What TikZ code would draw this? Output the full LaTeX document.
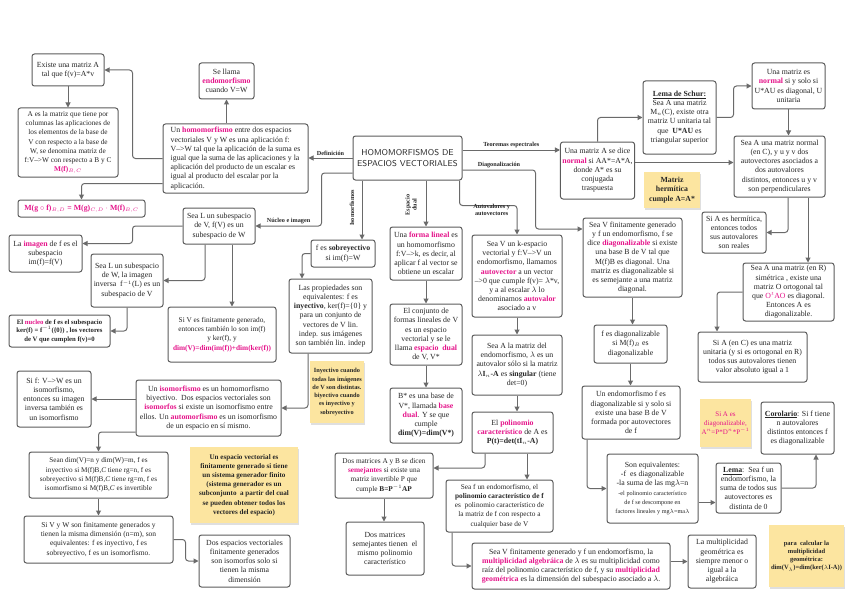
\documentclass[tikz,border=0pt]{standalone}
\usepackage{fontspec}
\setmainfont{Liberation Serif}
\usetikzlibrary{arrows.meta,shadows,calc}
\definecolor{mag}{HTML}{E5138A}
\definecolor{bord}{HTML}{5B5B5B}
\definecolor{arrc}{HTML}{6A6A6A}
\definecolor{sticky}{HTML}{FCE5A0}
\newcommand\mg[1]{\textcolor{mag}{\textbf{#1}}}
\newcommand\fs[2]{\fontsize{#1}{#2}\selectfont}
\newcommand\sm[1]{{\fs{6.2}{7.8}#1}}
\newcommand\mybox[7][]{%
 \pgfmathsetmacro\bxw{#5-#3}\pgfmathsetmacro\bxh{#6-#4}%
 \pgfmathsetmacro\bxcx{(#3+#5)/2}\pgfmathsetmacro\bxcy{(#4+#6)/2}%
 \node[bx,#1,minimum width=\bxw pt,minimum height=\bxh pt] (#2) at (\bxcx,\bxcy) {#7};}
\tikzset{
 bx/.style={draw=bord, line width=1pt, rounded corners=2.5pt, fill=white, align=center, inner sep=2pt, font=\fs{7.8}{9.2}, text=black!85},
 mid/.style={font=\fs{7.3}{9.2}},
 note/.style={fill=sticky, draw=none, sharp corners, drop shadow={shadow xshift=1pt, shadow yshift=-2pt, opacity=0.25}},
 arr/.style={draw=arrc, line width=1pt, rounded corners=3pt, -{Triangle[length=5pt,width=5pt]}},
 lbl/.style={font=\bfseries\fs{6.2}{7.2}, text=black!85, inner sep=1pt}
}
\begin{document}
\begin{tikzpicture}[x=1pt,y=-1pt]
\fill[white] (0,0) rectangle (848,599);
\useasboundingbox (0,0) rectangle (848,599);

% left column
\mybox{exist}{32}{54}{104}{86}{Existe una matriz A\\tal que f(v)=A*v}
\mybox[mid]{amat}{18}{108}{118}{177}{A es la matriz que tiene por\\columnas las aplicaciones de\\los elementos de la base de\\V con respecto a la base de\\W, se denomina matriz de\\f:V-->W con respecto a B y C\\\mg{M(f)$_{B,C}$}}
\mybox{mgf}{18}{200}{145}{217}{\mg{M(g $\circ$ f)$_{B,D}$ = M(g)$_{C,D}$ $\cdot$ M(f)$_{B,C}$}}
\mybox{endo}{199}{63}{254}{99}{Se llama\\\mg{endomorfismo}\\cuando V=W}
\mybox[align=left]{homo}{163}{124}{308}{193}{Un \mg{homomorfismo} entre dos espacios\\vectoriales V y W es una aplicación f:\\V-->W tal que la aplicación de la suma es\\igual que la suma de las aplicaciones y la\\aplicación del producto de un escalar es\\igual al producto del escalar por la\\aplicación.}
\mybox[font=\sffamily\fs{8.5}{11}]{title}{353}{136}{462}{180}{HOMOMORFISMOS DE\\ESPACIOS VECTORIALES}

\mybox{subV}{183}{208}{255}{244}{Sea L un subespacio\\de V, f(V) es un\\subespacio de W}
\mybox{imagen}{9}{235}{82}{272}{La \mg{imagen} de f es el\\subespacio\\im(f)=f(V)}
\mybox{subW}{91}{254}{163}{307}{Sea L un subespacio\\de W, la imagen\\inversa\ \ f$^{-1}$(L) es un\\subespacio de V}
\mybox[font=\bfseries\fs{6.7}{8.6}]{nucleo}{9}{315}{110}{347}{El \mg{nucleo} de f es el subespacio\\ker(f) = f$^{-1}$(\{0\}) , los vectores\\de V que cumplen f(v)=0}
\mybox[mid]{dimV}{168}{307}{276}{362}{Si V es finitamente generado,\\entonces también lo son im(f)\\y ker(f), y\\\mg{dim(V)=dim(im(f))+dim(ker(f))}}
\mybox{sobre}{311}{240}{375}{267}{f es \textbf{sobreyectivo}\\si im(f)=W}
\mybox{props}{289}{279}{372}{353}{Las propiedades son\\equivalentes: f es\\\textbf{inyectivo}, ker(f)=\{0\} y\\para un conjunto de\\vectores de V lin.\\indep. sus imágenes\\son también lin. indep}
\mybox[note,font=\bfseries\fs{6.3}{8.3}]{stickyA}{312}{361}{362}{423}{Inyectivo cuando\\todas las imágenes\\de V son distintas.\\biyectivo cuando\\es inyectivo y\\sobreyectivo}
\mybox{iso}{136}{380}{281}{436}{Un \mg{isomorfismo} es un homomorfismo\\biyectivo.\ \ Dos espacios vectoriales son\\\mg{isomorfos} si existe un isomorfismo entre\\ellos. Un \mg{automorfismo} es un isomorfismo\\de un espacio en sí mismo.}
\mybox{isoinv}{17}{371}{91}{427}{Si f: V-->W es un\\isomorfismo,\\entonces su imagen\\inversa también es\\un isomorfismo}
\mybox[font=\fs{7.2}{9.2}]{seandim}{29}{452}{168}{498}{Sean dim(V)=n y dim(W)=m, f es\\inyectivo si M(f)B,\textit{C} tiene rg=n, f es\\sobreyectivo si M(f)B,\textit{C} tiene rg=m, f es\\isomorfismo si M(f)B,\textit{C} es invertible}
\mybox[font=\fs{7.5}{9.2}]{sivw}{24}{516}{173}{563}{Si V y W son finitamente generados y\\tienen la misma dimensión (n=m), son\\equivalentes: f es inyectivo, f es\\sobreyectivo, f es un isomorfismo.}
\mybox[note,font=\bfseries\fs{7.1}{9.2}]{stickyB}{190}{447}{298}{523}{Un espacio vectorial es\\finitamente generado si tiene\\un sistema generador finito\\(sistema generador es un\\subconjunto\ \ a partir del cual\\se pueden obtener todos los\\vectores del espacio)}
\mybox{dosesp}{199}{535}{290}{587}{Dos espacios vectoriales\\finitamente generados\\son isomorfos solo si\\tienen la misma\\dimensión}

% dual column
\mybox{forma}{390}{227}{462}{280}{Una \mg{forma lineal} es\\un homomorfismo\\f:V-->k, es decir, al\\aplicar f al vector se\\obtiene un escalar}
\mybox{dual}{390}{304}{462}{365}{El conjunto de\\formas lineales de V\\es un espacio\\vectorial y se le\\llama \mg{espacio\ \ dual}\\de V, V*}
\mybox{bdual}{390}{388}{462}{443}{B* es una base de\\V*, llamada \mg{base}\\\mg{dual}. Y se que\\cumple\\\textbf{dim(V)=dim(V*)}}

% autovalores column
\mybox{autovec}{472}{235}{562}{317}{Sea V un k-espacio\\vectorial y f:V-->V un\\endomorfismo, llamamos\\\mg{autovector} a un vector\\-->0 que cumple f(v)= $\lambda$*v,\\y a al escalar $\lambda$ lo\\denominamos \mg{autovalor}\\asociado a v}
\mybox{singular}{472}{335}{562}{395}{Sea A la matriz del\\endomorfismo, $\lambda$ es un\\autovalor sólo si la matriz\\\textbf{$\lambda$I$_n$-A} es \textbf{singular} (tiene\\det=0)}
\mybox{polin}{472}{412}{553}{453}{El \mg{polinomio}\\\mg{característico} de A es\\\textbf{P(t)=det(tI$_n$-A)}}
\mybox[mid]{semej}{335}{453}{433}{498}{Dos matrices A y B se dicen\\\mg{semejantes} si existe una\\matriz invertible P que\\cumple \textbf{B=P$^{-1}$AP}}
\mybox{mismo}{346}{522}{424}{575}{Dos matrices\\semejantes tienen\ \ el\\mismo polinomio\\característico}
\mybox[mid]{polf}{446}{480}{553}{532}{Sea f un endomorfismo, el\\\textbf{polinomio característico de f}\\es\ \ polinomio característico de\\la matriz de f con respecto a\\cualquier base de V}
\mybox{multalg}{472}{543}{670}{589}{Sea V finitamente generado y f un endomorfismo, la\\\mg{multiplicidad algebráica} de $\lambda$ es su multiplicidad como\\raíz del polinomio característico de f, y su \mg{multiplicidad}\\\mg{geométrica} es la dimensión del subespacio asociado a $\lambda$.}

% right part
\mybox{normal}{562}{142}{633}{199}{Una matriz A se dice\\\mg{normal} si AA*=A*A,\\donde A* es su\\conjugada\\traspuesta}
\mybox{schur}{643}{81}{716}{154}{\underline{\textbf{Lema de Schur:}}\\Sea A una matriz\\M$_n$(C), existe otra\\matriz U unitaria tal\\que\ \ \textbf{U*AU} es\\triangular superior}
\mybox{unorm}{752}{63}{825}{109}{Una matriz es\\\mg{normal} si y solo si\\U*AU es diagonal, U\\unitaria}
\mybox{perp}{734}{136}{825}{197}{Sea A una matriz normal\\(en C), y u y v dos\\autovectores asociados a\\dos autovalores\\distintos, entonces u y v\\son perpendiculares}
\mybox[note,font=\bfseries\fs{7.8}{9.6}]{stickyC}{644}{172}{700}{208}{Matriz\\hermítica\\cumple A=A*}
\mybox{herm}{702}{212}{766}{253}{Si A es hermítica,\\entonces todos\\sus autovalores\\son reales}
\mybox{sim}{743}{263}{834}{321}{Sea A una matriz (en R)\\simétrica , existe una\\matriz O ortogonal tal\\que \textcolor{mag}{O$^t$AO} es diagonal.\\Entonces A es\\diagonalizable.}
\mybox{unit}{698}{332}{807}{382}{Si A (en C) es una matriz\\unitaria (y si es ortogonal en R)\\todos sus autovalores tienen\\valor absoluto igual a 1}
\mybox{diag}{583}{218}{682}{297}{Sea V finitamente generado\\y f un endomorfismo, f se\\dice \mg{diagonalizable} si existe\\una base B de V tal que\\M(f)B es diagonal. Una\\matriz es diagonalizable si\\es semejante a una matriz\\diagonal.}
\mybox{fdiag}{594}{325}{667}{363}{f es diagonalizable\\si M(f)$_B$ es\\diagonalizable}
\mybox{endodiag}{582}{386}{680}{439}{Un endomorfismo f es\\diagonalizable si y solo si\\existe una base B de V\\formada por autovectores\\de f}
\mybox[note,font=\fs{7}{8.8},text=mag]{stickyD}{701}{399}{750}{447}{Si A es\\diagonalizable,\\A$^n$=P*D$^n$*P$^{-1}$}
\mybox{coro}{761}{402}{834}{454}{\underline{\textbf{Corolario}}: Si f tiene\\n autovalores\\distintos entonces f\\es diagonalizable}
\mybox{lema}{716}{463}{781}{513}{\underline{\textbf{Lema}}:\ \ Sea f un\\endomorfismo, la\\suma de todos sus\\autovectores es\\distinta de 0}
\mybox{equiv}{607}{454}{698}{523}{Son equivalentes:\\-f\ \ es diagonalizable\\-la suma de las mg$\lambda$=n\\\sm{-el polinomio característico}\\\sm{de f se descompone en}\\\sm{factores lineales y mg$\lambda$=ma$\lambda$}}
\mybox{multgeo}{688}{535}{756}{588}{La multiplicidad\\geométrica es\\siempre menor o\\igual a la\\algebráica}
\mybox[note,font=\bfseries\fs{6.5}{8.2}]{stickyE}{770}{525}{843}{587}{para\ \ calcular la\\multiplicidad\\geométrica:\\dim(V$_\lambda$)=dim(ker($\lambda$I-A))}

% connectors
\draw[arr] (homo.west) -- ++(-30,0) |- (exist.east);
\draw[arr] (exist.south) -- (amat.north);
\draw[arr] ([yshift=-25pt]homo.west) -| (mgf.north);
\draw[arr] (endo.south |- homo.north) -- (endo.south);
\draw[arr] (title.west) -- node[lbl,above=1pt] {Definición} (title.west -| homo.east);
\draw[arr] ([yshift=8pt]title.east) -- node[lbl,above=1pt] {Teoremas espectrales} ([yshift=8pt]title.east -| normal.west);
\draw[arr] ([yshift=-12pt]title.east) -- node[lbl,above=1pt] {Diagonalización} ++(73,0) |- ([yshift=28.5pt]diag.west);
\draw[arr] ([xshift=-3pt]title.south east) -- ++(0,25) -| node[lbl,align=center,pos=0.28,yshift=-4pt] {Autovalores y\\autovectores} (autovec.north);
\draw[arr] ([xshift=-45.5pt]title.south) -- ([xshift=-45.5pt]title.south |- sobre.north);
\node[lbl,rotate=90] (isolbl) at (352,208) {Isomorfismos};
\draw[arr] (forma.north |- title.south) -- (forma.north);
\node[lbl,rotate=90,align=center] (duallbl) at (411,205) {Espacio\\dual};
\draw[arr] ([yshift=-15pt]title.west) -- ++(-31,0) |- node[lbl,above=1pt,pos=0.75] {Núcleo e imagen} (subV.east);
\draw[arr] (subV.west) -- ++(-50,0) |- ([yshift=10pt]imagen.east);
\draw[arr] ([xshift=-14pt]subV.south) |- (subW.east);
\draw[arr] ([xshift=13pt]subV.south) -- ([xshift=13pt]subV.south |- dimV.north);
\draw[arr] (subW.south) |- (nucleo.east);
\draw[arr] (sobre.west) -| ([xshift=-28.5pt]props.north);
\draw[arr] ([xshift=-22.5pt]props.south) |- (iso.east);
\draw[arr] (iso.west |- isoinv.east) -- (isoinv.east);
\draw[arr] ([yshift=-24pt]iso.west) -| (seandim.north);
\draw[arr] (seandim.south) -- (sivw.north);
\draw[arr] (sivw.east) -- ++(12,0) |- (dosesp.west);
\draw[arr] (forma.south) -- (dual.north);
\draw[arr] (dual.south) -- (bdual.north);
\draw[arr] (autovec.south) -- (singular.north);
\draw[arr] (singular.south) -- (singular.south |- polin.north);
\draw[arr] ([xshift=-27.5pt]polin.south) |- ([yshift=7.5pt]semej.east);
\draw[arr] ([xshift=14.5pt]polin.south) -- ([xshift=14.5pt]polin.south |- polf.north);
\draw[arr] (semej.south) -- (semej.south |- mismo.north);
\draw[arr] ([xshift=-47.5pt]polf.south) |- (multalg.west);
\draw[arr] (multalg.east |- multgeo.west) -- (multgeo.west);
\draw[arr] (normal.north) |- (schur.west);
\draw[arr] (schur.east) -- ++(17,0) |- (unorm.west);
\draw[arr] (unorm.south) -- (unorm.south |- perp.north);
\draw[arr] ([yshift=8pt]normal.east) -- ([yshift=8pt]normal.east -| perp.west);
\draw[arr] ([xshift=8.5pt]perp.south) |- (herm.east);
\draw[arr] ([xshift=28.5pt]perp.south) -- ([xshift=28.5pt]perp.south |- sim.north);
\draw[arr] (sim.west) -| ([xshift=-35.5pt]unit.north);
\draw[arr] (diag.south) -- (diag.south |- fdiag.north);
\draw[arr] (fdiag.south) -- (fdiag.south |- endodiag.north);
\draw[arr] ([xshift=-44pt]endodiag.south) |- (equiv.west);
\draw[arr] ([yshift=-14pt]equiv.east) -- ([yshift=-14pt]equiv.east -| lema.west);
\draw[arr] (lema.east) -| ([xshift=18.5pt]coro.south);
\end{tikzpicture}
\end{document}
